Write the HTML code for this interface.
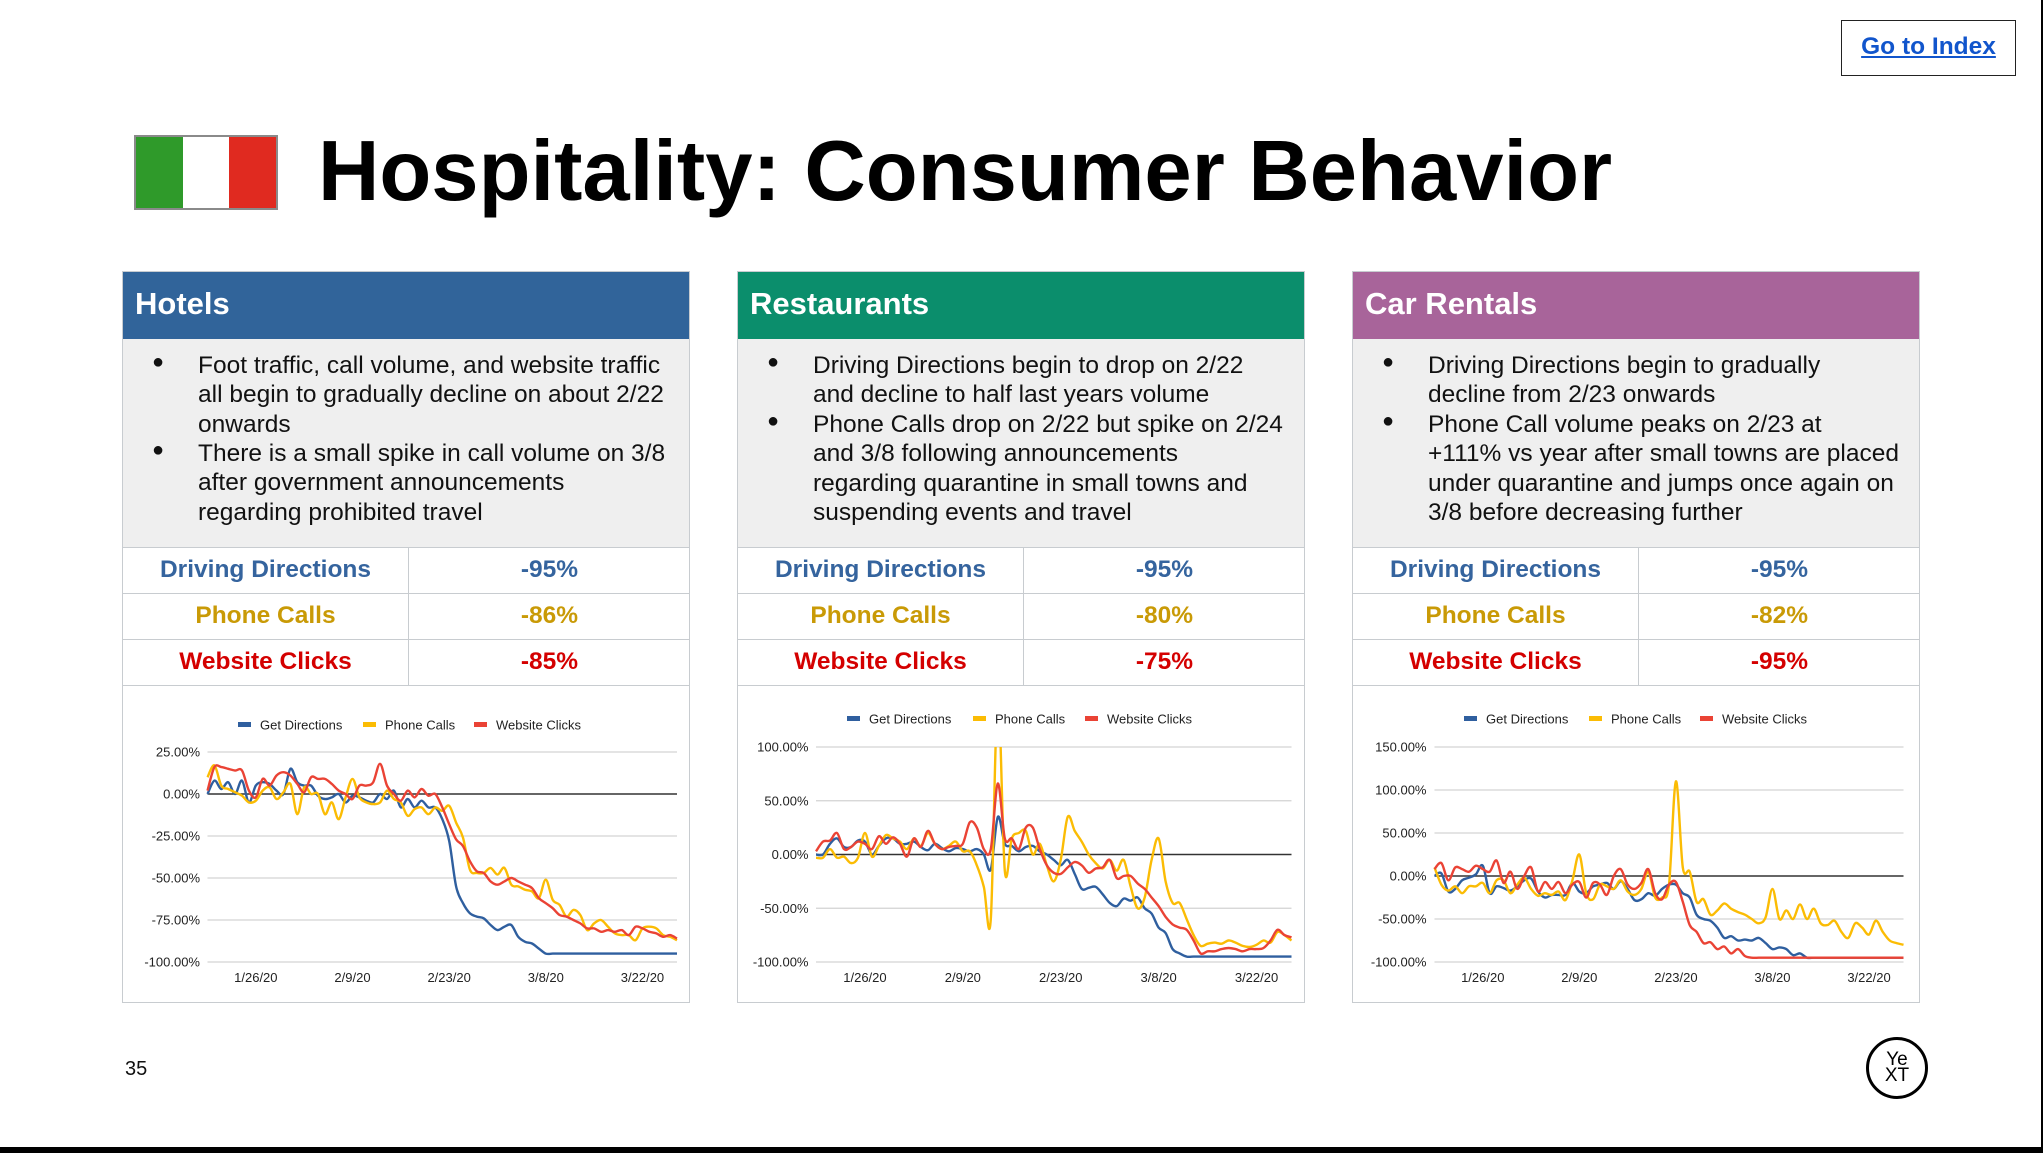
<!DOCTYPE html>
<html><head><meta charset="utf-8"><style>
body{margin:0;width:2043px;height:1153px;position:relative;background:#fff;font-family:"Liberation Sans",Arial,sans-serif;overflow:hidden}
.abs{position:absolute}
.panel{position:absolute;top:271px;width:568px;height:732px;border:1px solid #c8ccd0;box-sizing:border-box;background:#fff}
.hdr{position:absolute;left:0;top:0;width:100%;height:67px;color:#fff;font-weight:bold;font-size:31px}
.hdr span{position:absolute;left:12px;top:14px}
.body{position:absolute;left:0;top:67px;width:100%;height:208px;background:#efefef;border-bottom:1px solid #c8ccd0;font-size:24.5px;color:#111}
.li{position:absolute;left:0;width:100%}
.bul{position:absolute;left:29px;font-size:20px}
.txt{position:absolute;left:75px;line-height:29.3px;white-space:nowrap}
.row{position:absolute;left:0;width:100%;height:46px;border-bottom:1px solid #c8ccd0;font-weight:bold;font-size:24.5px}
.row .c1,.row .c2{position:absolute;top:0;height:46px;line-height:46px;text-align:center}
.row .c1{left:0;width:285px;border-right:1px solid #c8ccd0}
.row .c2{left:285px;width:283px}
.blue{color:#35649e}.gold{color:#c99a06}.red{color:#d40000}
</style></head><body>
<div class="abs" style="left:1841px;top:20px;width:175px;height:56px;border:1.5px solid #222;box-sizing:border-box;text-align:center;line-height:52px;font-weight:bold;font-size:24.5px;color:#1155cc;text-decoration:underline">Go to Index</div>
<div class="abs" style="left:134px;top:135px;width:144px;height:75px;border:2px solid #8a8a8a;box-sizing:border-box;display:flex">
<div style="flex:1;background:#2f9a2a"></div><div style="flex:1;background:#fff"></div><div style="flex:1;background:#e02a20"></div></div>
<div class="abs" style="left:318px;top:122px;font-size:85px;font-weight:bold;color:#000;white-space:nowrap;line-height:100px">Hospitality: Consumer Behavior</div>

<div class="panel" style="left:122px">
<div class="hdr" style="background:#31649a"><span>Hotels</span></div>
<div class="body">
<div class="bul" style="top:12px">●</div><div class="txt" style="top:12px">Foot traffic, call volume, and website traffic<br>all begin to gradually decline on about 2/22<br>onwards</div>
<div class="bul" style="top:100px">●</div><div class="txt" style="top:100px">There is a small spike in call volume on 3/8<br>after government announcements<br>regarding prohibited travel</div>
</div>
<div class="row" style="top:275px"><div class="c1 blue">Driving Directions</div><div class="c2 blue">-95%</div></div>
<div class="row" style="top:321px"><div class="c1 gold">Phone Calls</div><div class="c2 gold">-86%</div></div>
<div class="row" style="top:367px"><div class="c1 red">Website Clicks</div><div class="c2 red">-85%</div></div>
</div>

<div class="panel" style="left:737px">
<div class="hdr" style="background:#0b8e6c"><span>Restaurants</span></div>
<div class="body">
<div class="bul" style="top:12px">●</div><div class="txt" style="top:12px">Driving Directions begin to drop on 2/22<br>and decline to half last years volume</div>
<div class="bul" style="top:71px">●</div><div class="txt" style="top:71px">Phone Calls drop on 2/22 but spike on 2/24<br>and 3/8 following announcements<br>regarding quarantine in small towns and<br>suspending events and travel</div>
</div>
<div class="row" style="top:275px"><div class="c1 blue">Driving Directions</div><div class="c2 blue">-95%</div></div>
<div class="row" style="top:321px"><div class="c1 gold">Phone Calls</div><div class="c2 gold">-80%</div></div>
<div class="row" style="top:367px"><div class="c1 red">Website Clicks</div><div class="c2 red">-75%</div></div>
</div>

<div class="panel" style="left:1352px">
<div class="hdr" style="background:#a8649a"><span>Car Rentals</span></div>
<div class="body">
<div class="bul" style="top:12px">●</div><div class="txt" style="top:12px">Driving Directions begin to gradually<br>decline from 2/23 onwards</div>
<div class="bul" style="top:71px">●</div><div class="txt" style="top:71px">Phone Call volume peaks on 2/23 at<br>+111% vs year after small towns are placed<br>under quarantine and jumps once again on<br>3/8 before decreasing further</div>
</div>
<div class="row" style="top:275px"><div class="c1 blue">Driving Directions</div><div class="c2 blue">-95%</div></div>
<div class="row" style="top:321px"><div class="c1 gold">Phone Calls</div><div class="c2 gold">-82%</div></div>
<div class="row" style="top:367px"><div class="c1 red">Website Clicks</div><div class="c2 red">-95%</div></div>
</div>

<svg id="charts" class="abs" style="left:0;top:0" width="2043" height="1153"></svg>

<div class="abs" style="left:125px;top:1058px;font-size:20px;color:#111">35</div>
<div class="abs" style="left:1866px;top:1037px;width:62px;height:62px;border:3px solid #000;border-radius:50%;box-sizing:border-box;text-align:center;font-size:19px;line-height:16px;padding-top:12px;color:#000">Ye<br>XT</div>
<div class="abs" style="left:0;top:1147px;width:2043px;height:6px;background:#000"></div>
<div class="abs" style="left:2041px;top:0;width:2px;height:1153px;background:#000"></div>

<script>
const xTickLabels = ['1/26/20','2/9/20','2/23/20','3/8/20','3/22/20'];
const xTickDays = [7,21,35,49,63];
const seriesNames = ['Get Directions','Phone Calls','Website Clicks'];
const hotelsTicks = [25,0,-25,-50,-75,-100];
const restaurantsTicks = [100,50,0,-50,-100];
const carTicks = [150,100,50,0,-50,-100];
const hotelsDirections = [0,8,3,7,0,8,-5,5,7,6,2,0,15,7,5,5,-1,-3,-2,0,-5,-1,-2,-4,-5,0,-3,2,-8,-3,-8,-4,-8,-8,-15,-28,-55,-65,-71,-73,-74,-78,-81,-79,-78,-85,-88,-89,-92,-95,-95,-95,-95,-95,-95,-95,-95,-95,-95,-95,-95,-95,-95,-95,-95,-95,-95,-95,-95];
const hotelsPhone = [10,17,5,3,1,-1,-5,-4,2,4,-3,1,6,-12,4,0,0,-12,-5,-15,-2,9,-2,-5,-6,-5,2,-3,-5,-13,-9,-8,-12,-8,-10,-7,-17,-26,-45,-47,-47,-44,-48,-44,-54,-55,-57,-58,-62,-51,-63,-66,-73,-69,-72,-81,-77,-75,-79,-83,-84,-84,-87,-80,-79,-80,-84,-85,-87];
const hotelsWeb = [2,16,16,15,14,14,2,-2,9,5,11,13,11,6,1,10,9,9,6,2,0,-3,5,5,7,18,5,0,-4,2,-2,3,-1,0,-8,-18,-27,-31,-40,-46,-47,-52,-54,-52,-50,-52,-54,-56,-62,-65,-68,-72,-73,-75,-77,-80,-80,-82,-81,-82,-81,-84,-79,-80,-82,-83,-85,-84,-86];
const restDirections = [0,0,10,15,7,7,13,12,0,8,15,15,10,10,12,7,4,10,6,3,6,5,3,5,0,-14,35,10,8,3,7,8,3,0,-5,-10,-5,-18,-32,-31,-30,-37,-45,-48,-41,-43,-40,-50,-55,-68,-73,-88,-92,-95,-95,-95,-95,-95,-95,-95,-95,-95,-95,-95,-95,-95,-95,-95,-95];
const restPhone = [-3,-3,5,-3,-2,-8,-3,20,-2,8,18,15,12,5,15,8,20,10,5,8,12,3,3,-10,-30,-60,150,-15,15,20,22,0,10,-10,-25,-5,35,22,12,0,-8,-13,-5,-15,-5,-30,-50,-40,-5,15,-25,-45,-45,-60,-75,-85,-83,-82,-83,-80,-82,-85,-86,-84,-80,-82,-72,-75,-80];
const restWeb = [3,12,13,20,5,7,12,10,5,17,10,16,10,-2,15,7,22,10,5,7,8,10,30,25,5,5,66,15,15,5,25,25,5,-10,-17,-18,-12,-7,-10,-17,-13,-12,-5,-22,-20,-20,-27,-32,-40,-48,-58,-65,-68,-70,-80,-92,-90,-90,-88,-87,-88,-90,-88,-88,-87,-80,-70,-75,-77];
const carDirections = [0,3,-18,-15,-5,-2,2,12,-20,-12,-14,-17,-12,-5,-3,-18,-25,-22,-22,-22,-8,-18,-20,-12,-10,-8,-15,-6,-15,-28,-27,-20,-23,-15,-10,-10,-20,-25,-45,-50,-52,-60,-72,-70,-75,-74,-75,-72,-78,-85,-83,-85,-92,-90,-95,-95,-95,-95,-95,-95,-95,-95,-95,-95,-95,-95,-95,-95,-95];
const carPhone = [10,-10,-17,-12,-20,-12,-12,-8,-20,-5,-5,-20,-10,-2,-15,-23,-20,-22,-18,-28,-5,25,-20,-27,-10,-12,-15,-5,-18,-22,-15,5,-25,-25,-10,110,10,5,-30,-27,-45,-40,-32,-38,-42,-45,-50,-55,-48,-15,-50,-40,-50,-33,-50,-38,-55,-57,-52,-65,-72,-55,-60,-68,-52,-65,-75,-78,-80];
const carWeb = [8,15,-5,10,8,5,12,8,5,18,-8,5,-15,0,10,-18,-7,-15,-7,-20,-10,-7,-25,-8,-10,-22,0,8,-10,-15,-8,8,-20,-27,-10,-7,-30,-57,-65,-78,-77,-85,-82,-90,-85,-93,-95,-95,-95,-95,-95,-95,-95,-95,-95,-95,-95,-95,-95,-95,-95,-95,-95,-95,-95,-95,-95,-95,-95];

const NS='http://www.w3.org/2000/svg';
const svg=document.getElementById('charts');
const colors=['#2f5f9f','#fbbc04','#ea4335'];
function mk(tag,attrs,parent){const e=document.createElementNS(NS,tag);for(const k in attrs)e.setAttribute(k,attrs[k]);(parent||svg).appendChild(e);return e;}
function smooth(pts){let d='M'+pts[0][0].toFixed(1)+','+pts[0][1].toFixed(1);
 for(let i=0;i<pts.length-1;i++){const p0=pts[i-1]||pts[i],p1=pts[i],p2=pts[i+1],p3=pts[i+2]||p2;
  const c1x=p1[0]+(p2[0]-p0[0])/6,c1y=p1[1]+(p2[1]-p0[1])/6,c2x=p2[0]-(p3[0]-p1[0])/6,c2y=p2[1]-(p3[1]-p1[1])/6;
  d+=' C'+c1x.toFixed(1)+','+c1y.toFixed(1)+' '+c2x.toFixed(1)+','+c2y.toFixed(1)+' '+p2[0].toFixed(1)+','+p2[1].toFixed(1);}
 return d;}
function chart(id,cfg,ticks,series){
 const g=mk('g',{});
 
 
 const vmax=ticks[0],vmin=ticks[ticks.length-1],n=series[0].length;
 const X=d=>cfg.x0+(cfg.x1-cfg.x0)*d/(n-1);
 const Y=v=>cfg.yTop+(cfg.yBot-cfg.yTop)*(vmax-v)/(vmax-vmin);
 ticks.forEach(t=>{
  const ln=mk('line',{x1:cfg.x0,x2:cfg.x1,y1:Y(t),y2:Y(t),stroke:t===0?'#333':'#d3d3d3','stroke-width':t===0?1.5:1.3},g);
  
  
  const tx=mk('text',{x:cfg.lx,y:Y(t)+4.5,'text-anchor':'end','font-size':13,fill:'#222'},g);
  tx.textContent=t.toFixed(2)+'%';
  
  
 });
 xTickDays.forEach((d,i)=>{
  const tx=mk('text',{x:X(d),y:cfg.yBot+20,'text-anchor':'middle','font-size':13,fill:'#222'},g);
  tx.textContent=xTickLabels[i];
  
  
 });
 const cp=mk('clipPath',{id:'clip-'+id},g);
 mk('rect',{x:cfg.x0-3,y:cfg.yTop,width:cfg.x1-cfg.x0+6,height:cfg.yBot-cfg.yTop+4},cp);
 series.forEach((s,si)=>{
  const pts=s.map((v,d)=>[X(d),Y(v)]);
  const p=mk('path',{d:smooth(pts),fill:'none',stroke:colors[si],'stroke-width':2.4,'stroke-linejoin':'round','clip-path':'url(#clip-'+id+')'},g);
  
  
  const sw=mk('rect',{x:cfg.lg[si],y:cfg.ly-3,width:13,height:5,fill:colors[si]},g);
  
  
  const lt=mk('text',{x:cfg.lg[si]+22,y:cfg.ly+4.5,'font-size':13,fill:'#222'},g);
  lt.textContent=seriesNames[si];
  
  
 });
}
chart('hotels',{x0:207.5,x1:677,yTop:752,yBot:962,lx:200,ly:725,lg:[238,363,474]},hotelsTicks,[hotelsDirections,hotelsPhone,hotelsWeb]);
chart('restaurants',{x0:816,x1:1291.5,yTop:747,yBot:962,lx:808.5,ly:719,lg:[847,973,1085]},restaurantsTicks,[restDirections,restPhone,restWeb]);
chart('car-rentals',{x0:1434.5,x1:1903.5,yTop:747,yBot:962,lx:1426.5,ly:719,lg:[1464,1589,1700]},carTicks,[carDirections,carPhone,carWeb]);
</script>
</body></html>
